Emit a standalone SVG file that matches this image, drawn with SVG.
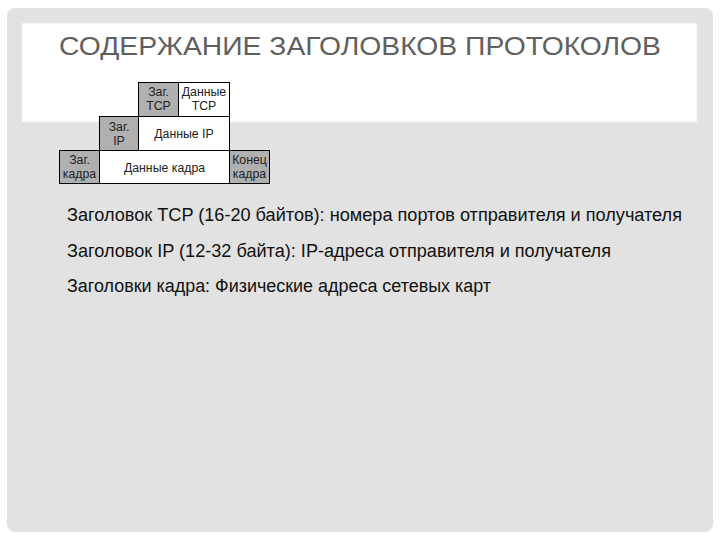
<svg xmlns="http://www.w3.org/2000/svg" width="720" height="540" viewBox="0 0 720 540">
<style>
.box{stroke:#000;stroke-width:1}
.hdr{fill:#b0b0b0}
.dat{fill:#fff}
.bt{font-family:"Liberation Sans",Arial,sans-serif;font-size:12.3px;fill:#222;text-anchor:middle}
.body{font-family:"Liberation Sans",Arial,sans-serif;font-size:18px;fill:#111}
.title{font-family:"Liberation Sans",Arial,sans-serif;font-size:26px;fill:#606060}
</style>
<rect x="0" y="0" width="720" height="540" fill="#fff"/>
<rect id="panel" x="7" y="8" width="706" height="524" rx="8" fill="#e2e2e2"/>
<rect id="titleband" x="22" y="23" width="675" height="99" fill="#fff" stroke="#ececec" stroke-width="1"/>
<text class="title" x="59" y="55" textLength="602" lengthAdjust="spacingAndGlyphs">СОДЕРЖАНИЕ ЗАГОЛОВКОВ ПРОТОКОЛОВ</text>

<g id="tcp-hdr"><rect class="box hdr" x="138.5" y="82.5" width="40" height="34"/><text class="bt" x="158.5" y="96">Заг.</text><text class="bt" x="158.5" y="110">TCP</text></g>
<g id="tcp-data"><rect class="box dat" x="178.5" y="82.5" width="51" height="34"/><text class="bt" x="204" y="96">Данные</text><text class="bt" x="204" y="110">TCP</text></g>
<g id="ip-hdr"><rect class="box hdr" x="99.5" y="116.5" width="39" height="34"/><text class="bt" x="119" y="131">Заг.</text><text class="bt" x="119" y="145">IP</text></g>
<g id="ip-data"><rect class="box dat" x="138.5" y="116.5" width="91" height="34"/><text class="bt" x="184" y="138">Данные IP</text></g>
<g id="frame-hdr"><rect class="box hdr" x="59.5" y="150.5" width="40" height="33"/><text class="bt" x="79.5" y="164">Заг.</text><text class="bt" x="79.5" y="178">кадра</text></g>
<g id="frame-data"><rect class="box dat" x="99.5" y="150.5" width="130" height="33"/><text class="bt" x="164.5" y="172">Данные кадра</text></g>
<g id="frame-end"><rect class="box hdr" x="229.5" y="150.5" width="40" height="33"/><text class="bt" x="249.5" y="164">Конец</text><text class="bt" x="249.5" y="178">кадра</text></g>
<g id="connectors"></g>

<text class="body" x="67" y="221" textLength="615" lengthAdjust="spacingAndGlyphs">Заголовок TCP (16-20 байтов): номера портов отправителя и получателя</text>
<text class="body" x="67" y="257" textLength="544" lengthAdjust="spacingAndGlyphs">Заголовок IP (12-32 байта): IP-адреса отправителя и получателя</text>
<text class="body" x="67" y="292" textLength="424" lengthAdjust="spacingAndGlyphs">Заголовки кадра: Физические адреса сетевых карт</text>
</svg>
